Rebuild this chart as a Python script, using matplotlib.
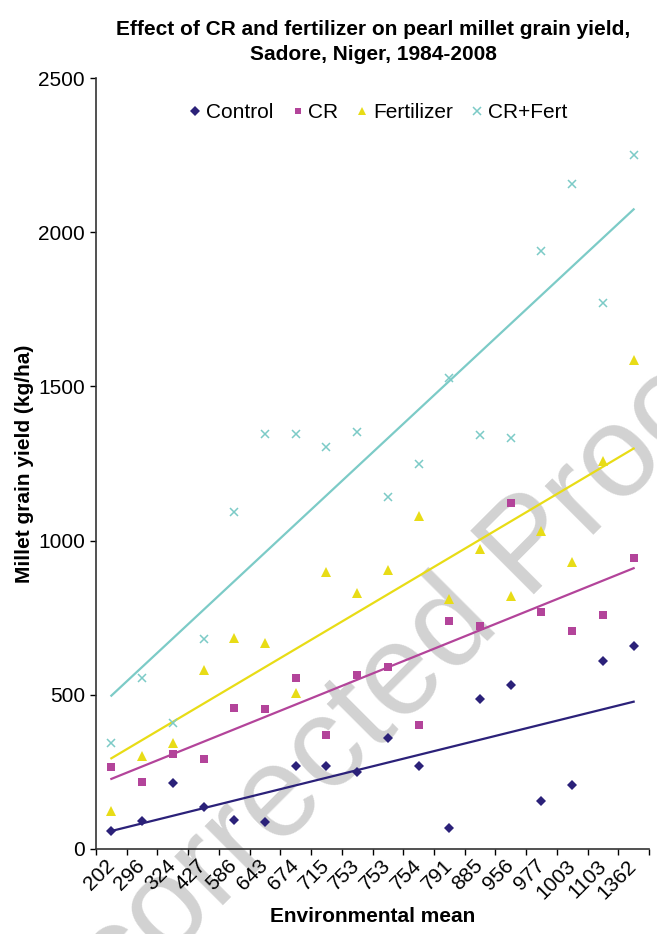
import numpy as np
import matplotlib
matplotlib.use("Agg")
import matplotlib.pyplot as plt

plt.rcParams['font.family'] = ['Liberation Sans', 'DejaVu Sans']

# Environmental mean categories (x axis) and yields (kg/ha)
env_mean = ["202", "296", "324", "427", "586", "643", "674", "715", "753",
            "753", "754", "791", "885", "956", "977", "1003", "1103", "1362"]
control = [58, 92, 215, 137, 94, 89, 270, 270, 250,
           361, 270, 69, 485, 533, 156, 208, 610, 657]
cr = [267, 218, 308, 293, 456, 454, 554, 370, 565,
      591, 402, 739, 724, 1123, 768, 707, 759, 942]
fertilizer = [124, 302, 344, 582, 684, 668, 507, 898, 829,
              906, 1080, 812, 974, 820, 1030, 929, 1259, 1586]
cr_fert = [344, 554, 410, 681, 1094, 1346, 1346, 1304, 1351,
           1142, 1248, 1528, 1342, 1334, 1940, 2156, 1771, 2251]

series = [
    ("Control", control, "#2B2179", "D", 5.5, 1.0),
    ("CR", cr, "#B3449A", "s", 5.5, 1.0),
    ("Fertilizer", fertilizer, "#E8DC16", "^", 6.5, 1.0),
    ("CR+Fert", cr_fert, "#7CCBC7", "x", 6.0, 1.1),
]

fig = plt.figure(figsize=(6.57, 9.34), dpi=100)
ax = fig.add_axes([96 / 657, 85 / 934, 553 / 657, 771 / 934])

x = np.arange(len(env_mean))

# watermark behind the data
ax.text(0.006, -0.203, "Uncorrected Proof", transform=fig.transFigure,
        fontsize=93, color="#D2D2D2", rotation=45, rotation_mode="anchor",
        ha="left", va="baseline", zorder=0.5, clip_on=False)

for name, vals, color, marker, ms, mew in series:
    if marker == "x":
        ax.plot(x, vals, linestyle="none", marker=marker, markersize=ms,
                markeredgewidth=mew, color=color, label=name, zorder=3)
    else:
        ax.plot(x, vals, linestyle="none", marker=marker, markersize=ms,
                markeredgewidth=0, color=color, label=name, zorder=3)
    # linear trend line (Excel style)
    k, b = np.polyfit(x, vals, 1)
    ax.plot([x[0], x[-1]], [k * x[0] + b, k * x[-1] + b], color=color,
            lw=1.6, zorder=2)

ax.set_xlim(-0.5, len(env_mean) - 0.5)
ax.set_ylim(0, 2500)
ax.set_yticks(np.arange(0, 2501, 500))

ax.set_xticks(x)
ax.set_xticklabels(env_mean, rotation=45, ha="right", va="center",
                   rotation_mode="anchor")
ax.set_xticks(np.arange(-0.5, len(env_mean)), minor=True)
ax.tick_params(axis="x", which="major", length=0, pad=10, labelsize=15)
ax.tick_params(axis="x", which="minor", length=4, width=1, direction="out")
ax.tick_params(axis="y", length=4, width=1, direction="out", pad=4,
               labelsize=15)

for side in ["top", "right"]:
    ax.spines[side].set_visible(False)
for side in ["left", "bottom"]:
    ax.spines[side].set_color("#333333")
    ax.spines[side].set_linewidth(1.2)

ax.set_xlabel("Environmental mean", fontsize=15, fontweight="bold",
              labelpad=3)
ax.set_ylabel("Millet grain yield (kg/ha)", fontsize=15, fontweight="bold",
              labelpad=3)

fig.text(373 / 657, 1 - 42 / 934,
         "Effect of CR and fertilizer on pearl millet grain yield,\nSadore, Niger, 1984-2008",
         ha="center", va="center", fontsize=15, fontweight="bold",
         linespacing=1.35)

ax.legend(loc="center", bbox_to_anchor=(378 / 657, 1 - 113 / 934),
          bbox_transform=fig.transFigure, ncol=4, frameon=False,
          fontsize=15, handlelength=0.6, handletextpad=0.2,
          columnspacing=0.87, borderpad=0, markerscale=0.85)

fig.savefig("out.png", dpi=100)
